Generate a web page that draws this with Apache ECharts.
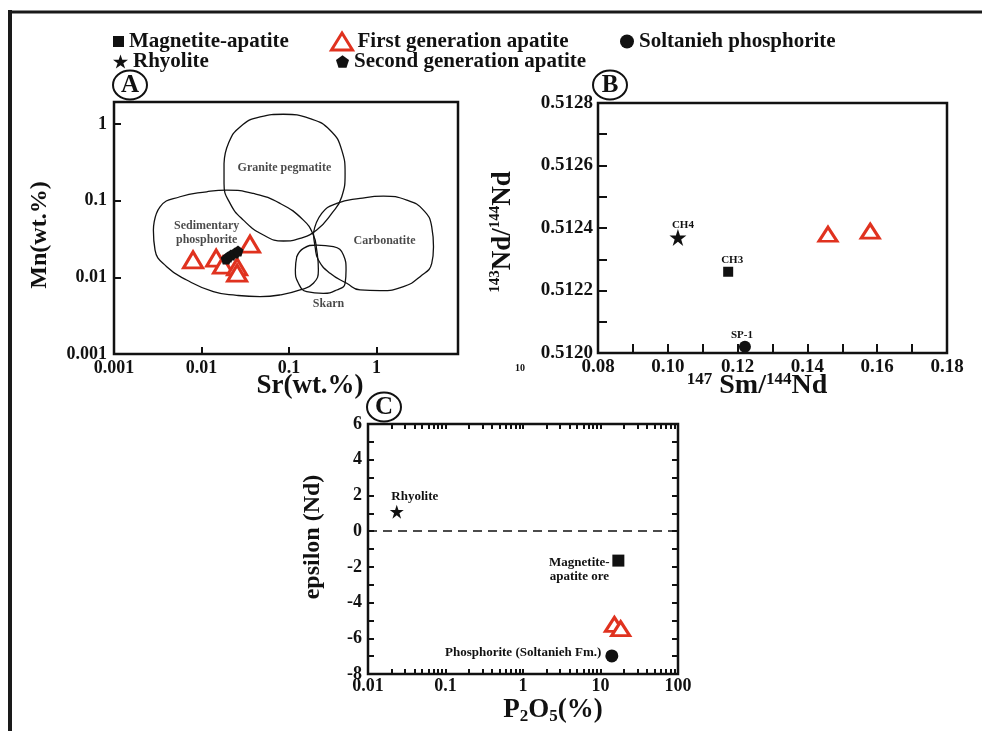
<!DOCTYPE html>
<html>
<head>
<meta charset="utf-8">
<title>Sr-Mn, Sm-Nd and epsilon Nd diagrams</title>
<script src="https://cdn.jsdelivr.net/npm/echarts@6.0.0/dist/echarts.min.js"></script>
<style>
html, body { margin: 0; padding: 0; background: #fff; }
#chart { width: 982px; height: 731px; }
</style>
</head>
<body>
<div id="chart"></div>
<script>
// ---- data ----
// A: Sr (wt.%) vs Mn (wt.%)
const aFirstGen = [[0.0080, 0.0169], [0.0147, 0.0179], [0.0176, 0.0145], [0.0255, 0.0137], [0.0255, 0.0114], [0.0358, 0.0272]];
const aSecondGen = [[0.0191, 0.0174], [0.0201, 0.0185], [0.0217, 0.0196], [0.0241, 0.0208], [0.0261, 0.0221]];
// field outlines in A, as [log10 Sr, log10 Mn]
const aGranite = [[-1.743, -0.513], [-1.693, -0.252], [-1.560, -0.035], [-1.331, 0.096], [-1.065, 0.130], [-0.760, 0.074],
  [-0.531, -0.078], [-0.398, -0.339], [-0.360, -0.643], [-0.398, -0.947], [-0.512, -1.165], [-0.684, -1.382],
  [-0.874, -1.491], [-1.065, -1.525], [-1.293, -1.447], [-1.522, -1.252], [-1.674, -1.034], [-1.743, -0.774]];
const aSedimentary = [[-2.550, -1.382], [-2.474, -1.078], [-2.246, -0.947], [-1.941, -0.882], [-1.712, -0.860], [-1.408, -0.904],
  [-1.103, -1.034], [-0.836, -1.252], [-0.722, -1.447], [-0.684, -1.643], [-0.665, -1.903], [-0.722, -2.077],
  [-0.874, -2.164], [-1.103, -2.229], [-1.331, -2.251], [-1.598, -2.234], [-1.865, -2.186], [-2.170, -2.034],
  [-2.398, -1.860], [-2.531, -1.643]];
const aCarbonatite = [[-0.722, -1.425], [-0.627, -1.165], [-0.455, -1.034], [-0.189, -0.969], [0.078, -0.939], [0.345, -0.991],
  [0.535, -1.121], [0.630, -1.339], [0.650, -1.599], [0.630, -1.817], [0.497, -1.990], [0.307, -2.121],
  [0.040, -2.173], [-0.189, -2.164], [-0.341, -2.077], [-0.531, -1.947], [-0.665, -1.773], [-0.703, -1.599]];
const aSkarn = [[-0.912, -1.730], [-0.836, -1.621], [-0.684, -1.578], [-0.493, -1.599], [-0.379, -1.708], [-0.349, -1.903],
  [-0.360, -2.077], [-0.455, -2.164], [-0.608, -2.208], [-0.798, -2.186], [-0.893, -2.077], [-0.928, -1.903]];
const aFieldNames = ['Granite pegmatite', 'Sedimentary\nphosphorite', 'Carbonatite', 'Skarn'];
const aFieldLabelAt = [[-1.053, -0.565], [-1.941, -1.425], [0.090, -1.521], [-0.550, -2.347]];

// B: 147Sm/144Nd vs 143Nd/144Nd
const bRhyolite = [[0.1029, 0.51237]];
const bMagnetite = [[0.1173, 0.51226]];
const bSoltanieh = [[0.1221, 0.51202]];
const bFirstGen = [[0.1459, 0.51238], [0.1580, 0.51239]];
const bSampleIds = { rhyolite: 'CH4', magnetite: 'CH3', soltanieh: 'SP-1' };

// C: P2O5 (%) vs epsilon Nd
const cRhyolite = [[0.0235, 1.09]];
const cMagnetite = [[17.0, -1.65]];
const cFirstGen = [[15.1, -5.22], [18.2, -5.46]];
const cSoltanieh = [[14.0, -6.99]];

// ---- styling ----
const FONT = '"Liberation Serif", "Times New Roman", serif';
const INK = '#111111';
const RED = '#e0321f';
const STAR = 'path://M50,2 L61.8,37.6 L99,37.6 L68.9,59.6 L80.4,95 L50,73 L19.6,95 L31.1,59.6 L1,37.6 L38.2,37.6 Z';
const PENTAGON = 'path://M50,2 L98,37 L79.5,95 L20.5,95 L2,37 Z';

const lg = v => Math.log10(v);
const logX = arr => arr.map(p => [lg(p[0]), p[1]]);
const logXY = arr => arr.map(p => [lg(p[0]), lg(p[1])]);
const closed = arr => arr.concat([arr[0]]);
const decade = v => {
  const e = Math.round(v);
  return e < 0 ? Math.pow(10, e).toFixed(-e) : String(Math.pow(10, e));
};

const tickFont = { fontFamily: FONT, fontWeight: 'bold', fontSize: 18, color: INK };
const tickFontB = Object.assign({}, tickFont, { fontSize: 19 });
const noLine = { show: false, onZero: false };
const tick = (len, extra) => Object.assign({ show: true, inside: true, length: len, lineStyle: { color: INK, width: 2 } }, extra);
const lbl = (size, extra) => Object.assign({ show: true, fontFamily: FONT, fontWeight: 'bold', fontSize: size, color: INK }, extra);
const solid = { color: INK, opacity: 1 };

// minor ticks of the log axis in C
const cLogTicks = [];
for (let e = -2; e < 2; e++) {
  for (let k = 1; k < 10; k++) cLogTicks.push(lg(k * Math.pow(10, e)));
}
cLogTicks.push(2);

const fieldLine = (pts) => ({
  type: 'line', xAxisIndex: 0, yAxisIndex: 0, data: closed(pts), smooth: 0.5,
  symbol: 'none', silent: true, z: 1, lineStyle: { color: INK, width: 1.3 }
});

const triangleStyle = { color: '#fff', borderColor: RED, borderWidth: 3, opacity: 1 };

const chart = echarts.init(document.getElementById('chart'));

chart.setOption({
  animation: false,
  backgroundColor: '#fff',
  legend: [
    { data: ['Magnetite-apatite'], left: 113, top: 31, itemWidth: 11, itemHeight: 11 },
    { data: [{ name: 'First generation apatite', itemStyle: triangleStyle }], left: 330, top: 31, itemWidth: 21, itemHeight: 17 },
    { data: ['Soltanieh phosphorite'], left: 620, top: 31, itemWidth: 14, itemHeight: 14 },
    { data: ['Rhyolite'], left: 113, top: 51, itemWidth: 15, itemHeight: 15 },
    { data: ['Second generation apatite'], left: 336, top: 51, itemWidth: 13, itemHeight: 13 }
  ].map(l => Object.assign(l, {
    padding: 0, selectedMode: false,
    textStyle: { fontFamily: FONT, fontWeight: 'bold', fontSize: 21, color: INK }
  })),
  grid: [
    { left: 114, top: 102, width: 344, height: 252 },
    { left: 598, top: 103, width: 349, height: 250 },
    { left: 368, top: 424, width: 310, height: 250 }
  ].map(g => Object.assign(g, { show: true, borderColor: INK, borderWidth: 2.5 })),
  xAxis: [
    {
      gridIndex: 0, type: 'value', min: -3, max: 0.93,
      axisLine: noLine, splitLine: { show: false },
      axisTick: tick(7, { customValues: [-2, -1, 0] }),
      axisLabel: Object.assign({ customValues: [-3, -2, -1, 0], formatter: decade, margin: 5 }, tickFont)
    },
    {
      gridIndex: 1, type: 'value', min: 0.08, max: 0.18, interval: 0.01,
      axisLine: noLine, splitLine: { show: false },
      axisTick: tick(9),
      axisLabel: Object.assign({
        margin: 5,
        formatter: v => (Math.round(v * 100) % 2 === 0 ? v.toFixed(2) : '')
      }, tickFontB)
    },
    {
      gridIndex: 2, type: 'value', min: -2, max: 2,
      axisLine: noLine, splitLine: { show: false },
      axisTick: tick(5, { customValues: cLogTicks }),
      axisLabel: Object.assign({ customValues: [-2, -1, 0, 1, 2], formatter: decade, margin: 3 }, tickFont)
    },
    {
      gridIndex: 2, type: 'value', min: -2, max: 2, position: 'top',
      axisLine: noLine, splitLine: { show: false },
      axisTick: tick(5, { customValues: cLogTicks }),
      axisLabel: { show: false }
    }
  ],
  yAxis: [
    {
      gridIndex: 0, type: 'value', min: -3, max: 0.29,
      axisLine: noLine, splitLine: { show: false },
      axisTick: tick(7, { customValues: [-2, -1, 0] }),
      axisLabel: Object.assign({ customValues: [-3, -2, -1, 0], formatter: decade, margin: 7 }, tickFont)
    },
    {
      gridIndex: 1, type: 'value', min: 0.5120, max: 0.5128, interval: 0.0001,
      axisLine: noLine, splitLine: { show: false },
      axisTick: tick(9),
      axisLabel: Object.assign({
        margin: 5,
        formatter: v => (Math.round(v * 10000) % 2 === 0 ? v.toFixed(4) : '')
      }, tickFontB)
    },
    {
      gridIndex: 2, type: 'value', min: -8, max: 6, interval: 1,
      axisLine: noLine, splitLine: { show: false },
      axisTick: tick(6),
      axisLabel: Object.assign({
        margin: 6,
        formatter: v => (Math.round(v) % 2 === 0 ? String(v) : '')
      }, tickFont)
    },
    {
      gridIndex: 2, type: 'value', min: -8, max: 6, interval: 1, position: 'right',
      axisLine: noLine, splitLine: { show: false },
      axisTick: tick(6),
      axisLabel: { show: false }
    }
  ],
  series: [
    // ---- A ----
    fieldLine(aGranite),
    fieldLine(aSedimentary),
    fieldLine(aCarbonatite),
    fieldLine(aSkarn),
    {
      name: 'field labels', type: 'scatter', xAxisIndex: 0, yAxisIndex: 0, symbolSize: 0, silent: true,
      data: aFieldNames.map((n, i) => ({ name: n, value: aFieldLabelAt[i] })),
      label: lbl(12, { position: 'inside', formatter: p => p.name, color: '#1c1c1c', lineHeight: 14 })
    },
    {
      name: 'First generation apatite', type: 'scatter', xAxisIndex: 0, yAxisIndex: 0,
      symbol: 'triangle', symbolSize: [19, 16], itemStyle: triangleStyle, data: logXY(aFirstGen)
    },
    {
      name: 'Second generation apatite', type: 'scatter', xAxisIndex: 0, yAxisIndex: 0,
      symbol: PENTAGON, symbolSize: 11, itemStyle: solid, data: logXY(aSecondGen)
    },
    // ---- B ----
    {
      name: 'Magnetite-apatite', type: 'scatter', xAxisIndex: 1, yAxisIndex: 1,
      symbol: 'rect', symbolSize: 10, itemStyle: solid,
      data: bMagnetite.map(p => ({ name: bSampleIds.magnetite, value: p })),
      label: lbl(11, { position: 'top', distance: 1, offset: [4, 0], formatter: p => p.name })
    },
    {
      name: 'First generation apatite', type: 'scatter', xAxisIndex: 1, yAxisIndex: 1,
      symbol: 'triangle', symbolSize: [18, 14], itemStyle: triangleStyle, data: bFirstGen
    },
    {
      name: 'Soltanieh phosphorite', type: 'scatter', xAxisIndex: 1, yAxisIndex: 1,
      symbol: 'circle', symbolSize: 12, itemStyle: solid,
      data: bSoltanieh.map(p => ({ name: bSampleIds.soltanieh, value: p })),
      label: lbl(11, { position: 'top', distance: 0, offset: [-3, 0], formatter: p => p.name })
    },
    {
      name: 'Rhyolite', type: 'scatter', xAxisIndex: 1, yAxisIndex: 1,
      symbol: STAR, symbolSize: 17, itemStyle: solid,
      data: bRhyolite.map(p => ({ name: bSampleIds.rhyolite, value: p })),
      label: lbl(11, { position: 'top', distance: -2, offset: [5, 0], formatter: p => p.name })
    },
    // ---- C ----
    {
      name: 'Rhyolite', type: 'scatter', xAxisIndex: 2, yAxisIndex: 2,
      symbol: STAR, symbolSize: 14, itemStyle: solid,
      data: logX(cRhyolite).map(p => ({ name: 'Rhyolite', value: p })),
      label: lbl(13, { position: 'top', distance: 2, offset: [18, 0], formatter: p => p.name }),
      markLine: {
        silent: true, symbol: 'none', label: { show: false },
        lineStyle: { color: INK, width: 1.5, type: [9, 6], opacity: 1 },
        data: [{ yAxis: 0 }]
      }
    },
    {
      name: 'Magnetite-apatite', type: 'scatter', xAxisIndex: 2, yAxisIndex: 2,
      symbol: 'rect', symbolSize: 12, itemStyle: solid,
      data: logX(cMagnetite).map(p => ({ name: 'Magnetite-\napatite ore', value: p })),
      label: lbl(13, { position: 'left', distance: 5, align: 'center', offset: [-28, 9], lineHeight: 14, formatter: p => p.name })
    },
    {
      name: 'First generation apatite', type: 'scatter', xAxisIndex: 2, yAxisIndex: 2,
      symbol: 'triangle', symbolSize: [18, 14], itemStyle: triangleStyle, data: logX(cFirstGen)
    },
    {
      name: 'Soltanieh phosphorite', type: 'scatter', xAxisIndex: 2, yAxisIndex: 2,
      symbol: 'circle', symbolSize: 13, itemStyle: solid,
      data: logX(cSoltanieh).map(p => ({ name: 'Phosphorite (Soltanieh Fm.)', value: p })),
      label: lbl(13, { position: 'left', distance: 4, offset: [0, -3], formatter: p => p.name })
    }
  ],
  graphic: [
    // page frame (top and left edges only)
    { type: 'line', shape: { x1: 8, y1: 12, x2: 982, y2: 12 }, style: { stroke: '#1a1a1a', lineWidth: 3 } },
    { type: 'line', shape: { x1: 10, y1: 10, x2: 10, y2: 731 }, style: { stroke: '#1a1a1a', lineWidth: 4 } },
    // panel letters
    { type: 'ellipse', shape: { cx: 130, cy: 85, rx: 17, ry: 14.5 }, style: { fill: 'none', stroke: INK, lineWidth: 2 } },
    { type: 'text', x: 130, y: 86, style: { text: 'A', font: 'bold 25px ' + FONT, fill: INK, align: 'center', verticalAlign: 'middle' } },
    { type: 'ellipse', shape: { cx: 610, cy: 85, rx: 17, ry: 14.5 }, style: { fill: 'none', stroke: INK, lineWidth: 2 } },
    { type: 'text', x: 610, y: 86, style: { text: 'B', font: 'bold 25px ' + FONT, fill: INK, align: 'center', verticalAlign: 'middle' } },
    { type: 'ellipse', shape: { cx: 384, cy: 407, rx: 17, ry: 14.5 }, style: { fill: 'none', stroke: INK, lineWidth: 2 } },
    { type: 'text', x: 384, y: 408, style: { text: 'C', font: 'bold 25px ' + FONT, fill: INK, align: 'center', verticalAlign: 'middle' } },
    // axis titles
    { type: 'text', x: 40, y: 235, rotation: Math.PI / 2,
      style: { text: 'Mn(wt.%)', font: 'bold 24px ' + FONT, fill: INK, align: 'center', verticalAlign: 'middle' } },
    { type: 'text', x: 310, y: 386,
      style: { text: 'Sr(wt.%)', font: 'bold 27px ' + FONT, fill: INK, align: 'center', verticalAlign: 'middle' } },
    { type: 'text', x: 503, y: 232, rotation: Math.PI / 2,
      style: {
        text: '{s|143}{b|Nd/}{s|144}{b|Nd}', align: 'center', verticalAlign: 'middle',
        rich: {
          b: { fontFamily: FONT, fontWeight: 'bold', fontSize: 27, fill: INK, lineHeight: 30, verticalAlign: 'middle' },
          s: { fontFamily: FONT, fontWeight: 'bold', fontSize: 15, fill: INK, verticalAlign: 'top' }
        }
      } },
    { type: 'text', x: 757, y: 386,
      style: {
        text: '{s|147}{b| Sm/}{s|144}{b|Nd}', align: 'center', verticalAlign: 'middle',
        rich: {
          b: { fontFamily: FONT, fontWeight: 'bold', fontSize: 28, fill: INK, lineHeight: 30, verticalAlign: 'middle' },
          s: { fontFamily: FONT, fontWeight: 'bold', fontSize: 17, fill: INK, verticalAlign: 'top' }
        }
      } },
    { type: 'text', x: 520, y: 368,
      style: { text: '10', font: 'bold 10px ' + FONT, fill: INK, align: 'center', verticalAlign: 'middle' } },
    { type: 'text', x: 313, y: 537, rotation: Math.PI / 2,
      style: { text: 'epsilon (Nd)', font: 'bold 24px ' + FONT, fill: INK, align: 'center', verticalAlign: 'middle' } },
    { type: 'text', x: 553, y: 710,
      style: {
        text: '{b|P}{s|2}{b|O}{s|5}{b|(%)}', align: 'center', verticalAlign: 'middle',
        rich: {
          b: { fontFamily: FONT, fontWeight: 'bold', fontSize: 27, fill: INK, lineHeight: 30, verticalAlign: 'middle' },
          s: { fontFamily: FONT, fontWeight: 'bold', fontSize: 17, fill: INK, verticalAlign: 'bottom' }
        }
      } }
  ]
});
</script>
</body>
</html>
